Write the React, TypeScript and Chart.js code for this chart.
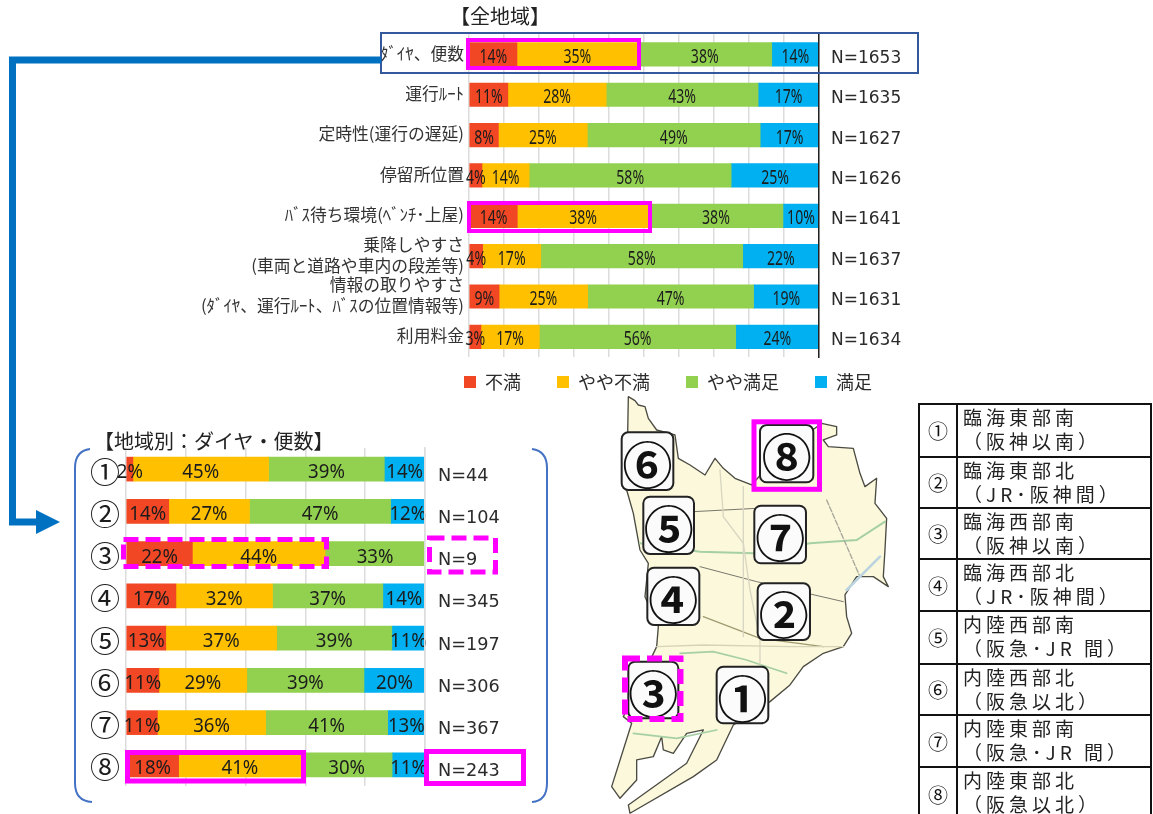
import React, { useEffect, useRef } from "react";
import { Chart, registerables } from "chart.js";

Chart.register(...registerables);

const seriesNames = ["不満", "やや不満", "やや満足", "満足"];
const seriesColors = ["#f24725", "#ffc000", "#92d050", "#00b0f0"];

const allCategories = [
  "ﾀﾞｲﾔ、便数",
  "運行ﾙｰﾄ",
  "定時性(運行の遅延)",
  "停留所位置",
  "ﾊﾞｽ待ち環境(ﾍﾞﾝﾁ･上屋)",
  ["乗降しやすさ", "(車両と道路や車内の段差等)"],
  ["情報の取りやすさ", "(ﾀﾞｲﾔ、運行ﾙｰﾄ、ﾊﾞｽの位置情報等)"],
  "利用料金",
];
const allCounts = ["N=1653", "N=1635", "N=1627", "N=1626", "N=1641", "N=1637", "N=1631", "N=1634"];
const allFuman = [13.7, 11.1, 8.4, 3.7, 13.8, 3.9, 8.6, 3.4];
const allYayaFuman = [34.5, 28.1, 25.4, 13.5, 37.6, 16.6, 25.3, 16.7];
const allYayaManzoku = [38.3, 43.4, 49.4, 57.7, 38.3, 57.7, 47.4, 56.1];
const allManzoku = [13.5, 17.4, 16.8, 25.1, 10.3, 21.8, 18.7, 23.8];

const areaCategories = ["①", "②", "③", "④", "⑤", "⑥", "⑦", "⑧"];
const areaCounts = ["N=44", "N=104", "N=9", "N=345", "N=197", "N=306", "N=367", "N=243"];
const areaFuman = [2.3, 14.3, 22.2, 16.7, 13.3, 11.0, 10.5, 17.6];
const areaYayaFuman = [45.4, 27.0, 44.4, 32.3, 37.1, 29.4, 36.2, 41.0];
const areaYayaManzoku = [38.7, 47.2, 33.4, 36.9, 38.5, 39.2, 40.8, 30.4];
const areaManzoku = [13.6, 11.5, 0, 14.1, 11.1, 20.4, 12.5, 11.0];

const tableRows = [
  ["①", "臨海東部南", "（阪神以南）"],
  ["②", "臨海東部北", "（JR･阪神間）"],
  ["③", "臨海西部南", "（阪神以南）"],
  ["④", "臨海西部北", "（JR･阪神間）"],
  ["⑤", "内陸西部南", "（阪急･JR 間）"],
  ["⑥", "内陸西部北", "（阪急以北）"],
  ["⑦", "内陸東部南", "（阪急･JR 間）"],
  ["⑧", "内陸東部北", "（阪急以北）"],
];
const tableRowEdges = [403, 455.5, 506.5, 558, 610, 662.5, 714, 766, 820];

const mapBadges: [string, number, number, number, number][] = [
  ["⑥", 95, 127, 155, 173],
  ["⑤", 160, 320, 152, 172],
  ["⑦", 493, 347, 155, 173],
  ["④", 172, 533, 156, 172],
  ["②", 503, 580, 157, 170],
  ["③", 115, 815, 150, 170],
  ["①", 380, 830, 155, 170],
  ["⑧", 510, 105, 160, 172],
];

const CJK = '"Noto Sans CJK JP", "Noto Sans", sans-serif';

const datasetsOf = (vals: number[][]) =>
  vals.map((data, i) => ({
    label: seriesNames[i],
    data,
    backgroundColor: seriesColors[i],
    borderWidth: 0,
  }));

const barLabels = (font: string, squeeze: number, dy: number) => ({
  id: "barLabels",
  afterDatasetsDraw(chart: any) {
    const ctx = chart.ctx;
    ctx.save();
    ctx.font = font;
    ctx.fillStyle = "#1c1c1c";
    ctx.textAlign = "center";
    ctx.textBaseline = "middle";
    chart.data.datasets.forEach((ds: any, di: number) => {
      chart.getDatasetMeta(di).data.forEach((el: any, i: number) => {
        const v = ds.data[i];
        if (!v) return;
        const c = el.getCenterPoint();
        ctx.save();
        ctx.translate(c.x, c.y + dy);
        ctx.scale(squeeze, 1);
        ctx.fillText(Math.round(v) + "%", 0, 0);
        ctx.restore();
      });
    });
    ctx.restore();
  },
});

const legendLift = (px: number) => ({
  id: "legendLift",
  afterLayout(chart: any) {
    if (chart.legend) chart.legend.top -= px;
  },
});

type Cfg = {
  labels: any[];
  counts: string[];
  values: number[][];
  step: number;
  bar: number;
  leftW: number;
  rightW: number;
  padTop: number;
  leftFont: any;
  leftPad: number;
  leftOffset: number;
  leftColor: string;
  nFontSize: number;
  nOffset: number;
  nPad: number;
  edgeColor: string;
  legend: boolean;
  plugins: any[];
};

function useBarChart(cfg: Cfg) {
  const ref = useRef<HTMLCanvasElement>(null);
  useEffect(() => {
    const chart = new Chart(ref.current as HTMLCanvasElement, {
      type: "bar",
      data: { labels: cfg.labels, datasets: datasetsOf(cfg.values) as any },
      plugins: cfg.plugins,
      options: {
        indexAxis: "y",
        animation: false,
        responsive: false,
        layout: { padding: { top: cfg.padTop, left: 0, right: 0, bottom: 0 } },
        datasets: { bar: { barThickness: cfg.bar } },
        scales: {
          x: {
            stacked: true,
            min: 0,
            max: 100,
            ticks: { display: false, stepSize: cfg.step },
            grid: { color: "#dcdcdc", lineWidth: 1.5, drawTicks: false },
            border: { display: false },
          },
          y: {
            stacked: true,
            offset: true,
            ticks: {
              font: cfg.leftFont,
              color: cfg.leftColor,
              padding: cfg.leftPad,
              labelOffset: cfg.leftOffset,
              autoSkip: false,
              maxRotation: 0,
            },
            grid: { display: false, drawTicks: false },
            border: { display: false },
            afterFit: (s: any) => {
              s.width = cfg.leftW;
              s.paddingTop = 0;
              s.paddingBottom = 0;
            },
          },
          y1: {
            type: "category",
            labels: cfg.counts,
            position: "right",
            offset: true,
            ticks: {
              font: { family: '"DejaVu Sans"', size: cfg.nFontSize },
              color: "#2b2b2b",
              padding: cfg.nPad,
              labelOffset: cfg.nOffset,
              autoSkip: false,
              maxRotation: 0,
            },
            grid: { display: false, drawTicks: false },
            border: { display: true, color: cfg.edgeColor, width: 1.5, z: 1 },
            afterFit: (s: any) => {
              s.width = cfg.rightW;
              s.paddingTop = 0;
              s.paddingBottom = 0;
            },
          },
        } as any,
        plugins: {
          tooltip: { enabled: false },
          title: { display: false },
          legend: cfg.legend
            ? {
                display: true,
                position: "bottom",
                labels: {
                  boxWidth: 12,
                  boxHeight: 12,
                  padding: 36,
                  color: "#2b2b2b",
                  font: { family: CJK, size: 18 },
                },
              }
            : { display: false },
        },
      },
    });
    return () => chart.destroy();
  }, []);
  return ref;
}

const abs = (left: number, top: number): React.CSSProperties => ({ position: "absolute", left, top });

export default function App() {
  const topRef = useBarChart({
    labels: allCategories,
    counts: allCounts,
    values: [allFuman, allYayaFuman, allYayaManzoku, allManzoku],
    step: 10,
    bar: 23.5,
    leftW: 275,
    rightW: 323,
    padTop: 14.25,
    leftFont: { family: CJK, size: 16.8, lineHeight: 1.25 },
    leftPad: 5,
    leftOffset: -1,
    leftColor: "#333333",
    nFontSize: 17,
    nOffset: 4,
    nPad: 12,
    edgeColor: "#222222",
    legend: true,
    plugins: [barLabels('19px "Noto Sans"', 0.74, 3), legendLift(20)],
  });
  const bottomRef = useBarChart({
    labels: areaCategories,
    counts: areaCounts,
    values: [areaFuman, areaYayaFuman, areaYayaManzoku, areaManzoku],
    step: 20,
    bar: 24,
    leftW: 56,
    rightW: 115,
    padTop: 8,
    leftFont: { family: CJK, size: 30 },
    leftPad: 6,
    leftOffset: 2,
    leftColor: "#1c1c1c",
    nFontSize: 17.7,
    nOffset: 7,
    nPad: 13,
    edgeColor: "#dcdcdc",
    legend: false,
    plugins: [barLabels('19px "Noto Sans"', 0.98, 3.5)],
  });

  return (
    <div style={{ position: "absolute", left: 0, top: 0, width: 1153, height: 814, overflow: "hidden", background: "#fff" }}>
      {/* charts */}
      <canvas ref={topRef} width={948} height={401} style={abs(194, 20)} />
      <canvas ref={bottomRef} width={470} height={346} style={abs(70, 440)} />

      {/* map */}
      <svg width={1153} height={814} style={abs(0, 0)}>
        <g transform="translate(590 390) scale(0.3333)">
          <path
            d="M115 20 L135 32 L145 45 L165 50 L175 85 L200 120 L255 135 L265 205 L300 225 L345 255 L375 205 L400 235 L435 265 L485 285 L560 200 L695 100 L740 110 L740 135 L700 150 L715 170 L790 175 L810 250 L825 290 L860 265 L855 340 L890 385 L885 480 L880 560 L895 590 L850 560 L800 560 L765 615 L770 680 L785 730 L760 770 L700 790 L640 830 L600 885 L540 935 L430 1005 L380 1110 L310 1160 L120 1270 L115 1245 L290 1120 L340 1020 L290 1030 L250 1090 L220 1080 L215 1040 L190 1100 L140 1110 L140 1170 L90 1225 L65 1190 L125 1000 L100 980 L200 770 L205 710 L165 620 L175 520 L150 480 L130 370 L110 300 Z"
            fill="#fbf8dc"
            stroke="#4b4b42"
            strokeWidth={4}
            strokeLinejoin="round"
          />
          <g fill="none" strokeLinecap="round">
            <path d="M150 460 L330 485 L490 490 L660 460 L800 450 L885 395" stroke="#a6d0a4" strokeWidth={6} />
            <path d="M270 790 L370 785 L470 810 L590 850" stroke="#a6d0a4" strokeWidth={5} />
            <path d="M130 1030 L260 1045 L380 1020" stroke="#a6d0a4" strokeWidth={5} />
            <path d="M310 365 L500 355" stroke="#77776a" strokeWidth={3} />
            <path d="M330 530 L500 575 L760 635" stroke="#77776a" strokeWidth={3} />
            <path d="M340 680 L510 745 L700 770" stroke="#a09a70" strokeWidth={4} />
            <path d="M390 240 L400 380 L460 460 L480 600 L510 750 L510 850" stroke="#d8d6c0" strokeWidth={4} />
            <path d="M460 290 L460 740" stroke="#d8d6c0" strokeWidth={4} />
            <path d="M710 330 L810 560" stroke="#a8a89a" strokeWidth={4} strokeDasharray="16 6" />
            <path d="M200 770 L340 765 L600 770 L760 770" stroke="#d6d3b6" strokeWidth={4} />
            <path d="M770 600 L810 560 L870 500" stroke="#bcd4e0" strokeWidth={8} />
          </g>
          {mapBadges.map(([t, x, y, w, h]) => (
            <g key={t}>
              <rect x={x} y={y} width={w} height={h} rx={20} fill="#fbfbfb" stroke="#222" strokeWidth={6} />
              <text
                x={x + w / 2}
                y={y + h / 2 + 2}
                textAnchor="middle"
                dominantBaseline="central"
                fontFamily={CJK}
                fontWeight={700}
                fontSize={150}
                fill="#111"
              >
                {t}
              </text>
            </g>
          ))}
        </g>
      </svg>

      {/* titles */}
      <div style={{ ...abs(450, 2), fontFamily: CJK, fontSize: 20, lineHeight: "28px", color: "#222", whiteSpace: "nowrap" }}>【全地域】</div>
      <div style={{ ...abs(94, 427), fontFamily: CJK, fontSize: 20, lineHeight: "28px", color: "#222", whiteSpace: "nowrap" }}>【地域別：ダイヤ・便数】</div>

      {/* table */}
      {tableRows.map((r, i) => (
        <div key={r[0]}>
          <div
            style={{
              ...abs(918, tableRowEdges[i]),
              width: 40,
              height: tableRowEdges[i + 1] - tableRowEdges[i] + 2,
              boxSizing: "border-box",
              border: "2px solid #111",
              display: "flex",
              alignItems: "center",
              justifyContent: "center",
              fontFamily: CJK,
              fontSize: 20,
              color: "#111",
            }}
          >
            {r[0]}
          </div>
          <div
            style={{
              ...abs(956, tableRowEdges[i]),
              width: 196,
              height: tableRowEdges[i + 1] - tableRowEdges[i] + 2,
              boxSizing: "border-box",
              border: "2px solid #111",
              paddingLeft: 5,
              fontFamily: CJK,
              fontSize: 19,
              lineHeight: "24px",
              letterSpacing: 4,
              color: "#222",
              whiteSpace: "nowrap",
            }}
          >
            <div>{r[1]}</div>
            <div>{r[2]}</div>
          </div>
        </div>
      ))}

      {/* overlays */}
      <svg width={1153} height={814} style={abs(0, 0)} fill="none">
        <rect x={381} y={33} width={537} height={40} stroke="#34589c" strokeWidth={2} />
        <path d="M381 60 L12.5 60 L12.5 522 L40 522" stroke="#0070c0" strokeWidth={7} />
        <path d="M36 510 L60 522 L36 534 Z" fill="#0070c0" />
        <rect x={468} y={40} width={171} height={28} stroke="#ff00ff" strokeWidth={4} />
        <rect x={469} y={203} width={181} height={28} stroke="#ff00ff" strokeWidth={4} />
        <rect x={123.5} y={539.5} width={203} height={27} stroke="#ff00ff" strokeWidth={5} strokeDasharray="15 7" />
        <rect x={429.5} y={538} width={66} height={34} stroke="#ff00ff" strokeWidth={5} strokeDasharray="15 7" />
        <rect x={127.5} y={752.5} width={176} height={28.5} stroke="#ff00ff" strokeWidth={5} />
        <rect x={426.5} y={751.5} width={97} height={32} stroke="#ff00ff" strokeWidth={5} />
        <path d="M90 449 Q75 451 75 468 L75 783 Q75 801 92 802" stroke="#4472c4" strokeWidth={2} />
        <path d="M532 449 Q547 451 547 468 L547 783 Q547 801 532 802" stroke="#4472c4" strokeWidth={2} />
        <rect x={754} y={421.8} width={65.5} height={67.5} stroke="#ff00ff" strokeWidth={5} />
        <rect x={625} y={658.5} width={55.5} height={60.5} stroke="#ff00ff" strokeWidth={6} strokeDasharray="15 7" />
      </svg>
    </div>
  );
}
